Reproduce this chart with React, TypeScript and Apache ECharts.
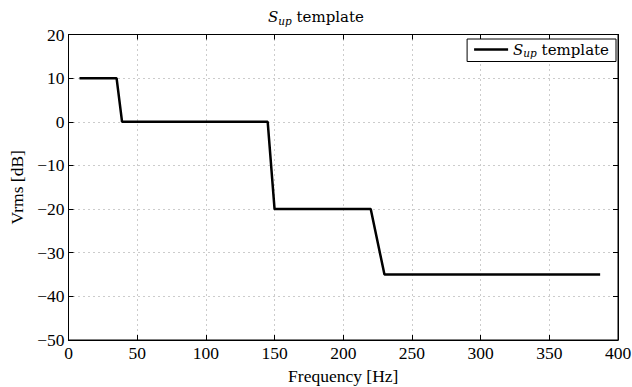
import React, { useEffect, useRef } from "react";
import * as echarts from "echarts";

const freqHz = [8, 35, 39, 145, 150, 220, 230, 387];
const levelDb = [10, 10, 0, 0, -20, -20, -35, -35];
const xTicks = [0, 400, 50];
const yTicks = [-50, 20, 10];

const FONT = "'Liberation Serif', 'DejaVu Serif', serif";
const CM = "'DejaVu Serif', 'Liberation Serif', serif";
const rich = {
  s: { fontFamily: CM, fontStyle: "italic", fontWeight: "normal", fontSize: 15, color: "#000" },
  sub: { fontFamily: CM, fontStyle: "italic", fontWeight: "normal", fontSize: 10.5, color: "#000", padding: [7, 0, 0, 0] },
  t: { fontFamily: CM, fontWeight: "normal", fontSize: 15, color: "#000" },
};

export default function App() {
  const ref = useRef<HTMLDivElement>(null);
  useEffect(() => {
    if (!ref.current) return;
    const chart = echarts.init(ref.current, null, { renderer: "svg" });
    const data = freqHz.map((f, i) => [f, levelDb[i]]);
    const axisCommon = {
      axisLine: { show: true, onZero: false, lineStyle: { color: "#000", width: 1 } },
      axisTick: { show: true, inside: true, length: 5, lineStyle: { color: "#000" } },
    };
    const labelStyle = { fontFamily: FONT, fontSize: 17.5, color: "#000", margin: 4 };
    const gridLine = { show: true, lineStyle: { color: "#999", type: [1, 4], width: 1 } };
    chart.setOption({
      animation: false,
      backgroundColor: "#fff",
      title: {
        text: "{s|S}{sub|up}{t| template}",
        left: "center",
        top: 3,
        textStyle: { rich, fontSize: 15, fontWeight: "normal" },
      },
      grid: {
        left: 68.5,
        right: 14,
        top: 34.5,
        bottom: 47,
        show: true,
        borderColor: "#000",
        borderWidth: 1,
        containLabel: false,
        outerBoundsMode: "none",
      },
      legend: {
        data: [{ name: "Sup", icon: "rect" }],
        right: 16,
        top: 39,
        orient: "horizontal",
        backgroundColor: "#fff",
        borderColor: "#000",
        borderWidth: 1,
        borderRadius: 0,
        padding: [3, 7, 3, 7],
        itemWidth: 34,
        itemHeight: 2.5,
        itemGap: 4,
        formatter: () => "{s|S}{sub|up}{t| template}",
        textStyle: { rich, fontSize: 15, fontWeight: "normal" },
      },
      xAxis: [
        {
          type: "value",
          min: xTicks[0],
          max: xTicks[1],
          interval: xTicks[2],
          name: "Frequency [Hz]",
          nameLocation: "middle",
          nameGap: 25,
          nameTextStyle: { fontFamily: FONT, fontSize: 17.5, color: "#000" },
          axisLabel: labelStyle,
          splitLine: gridLine,
          ...axisCommon,
        },
        {
          type: "value",
          position: "top",
          min: xTicks[0],
          max: xTicks[1],
          interval: xTicks[2],
          axisLabel: { show: false },
          splitLine: { show: false },
          ...axisCommon,
        },
      ],
      yAxis: [
        {
          type: "value",
          min: yTicks[0],
          max: yTicks[1],
          interval: yTicks[2],
          name: "Vrms [dB]",
          nameLocation: "middle",
          nameGap: 38,
          nameRotate: 90,
          nameTextStyle: { fontFamily: FONT, fontSize: 17.5, color: "#000" },
          axisLabel: {
            ...labelStyle,
            formatter: (v: number) => (v < 0 ? "\u2212" + Math.abs(v) : String(v)),
          },
          splitLine: gridLine,
          ...axisCommon,
        },
        {
          type: "value",
          position: "right",
          min: yTicks[0],
          max: yTicks[1],
          interval: yTicks[2],
          axisLabel: { show: false },
          splitLine: { show: false },
          ...axisCommon,
        },
      ],
      series: [
        {
          name: "Sup",
          type: "line",
          data,
          symbol: "none",
          lineStyle: { color: "#000", width: 2.5 },
          itemStyle: { color: "#000" },
        },
      ],
    });
    return () => chart.dispose();
  }, []);
  return <div ref={ref} style={{ width: 632, height: 387, position: "absolute", left: 0, top: 0 }} />;
}
